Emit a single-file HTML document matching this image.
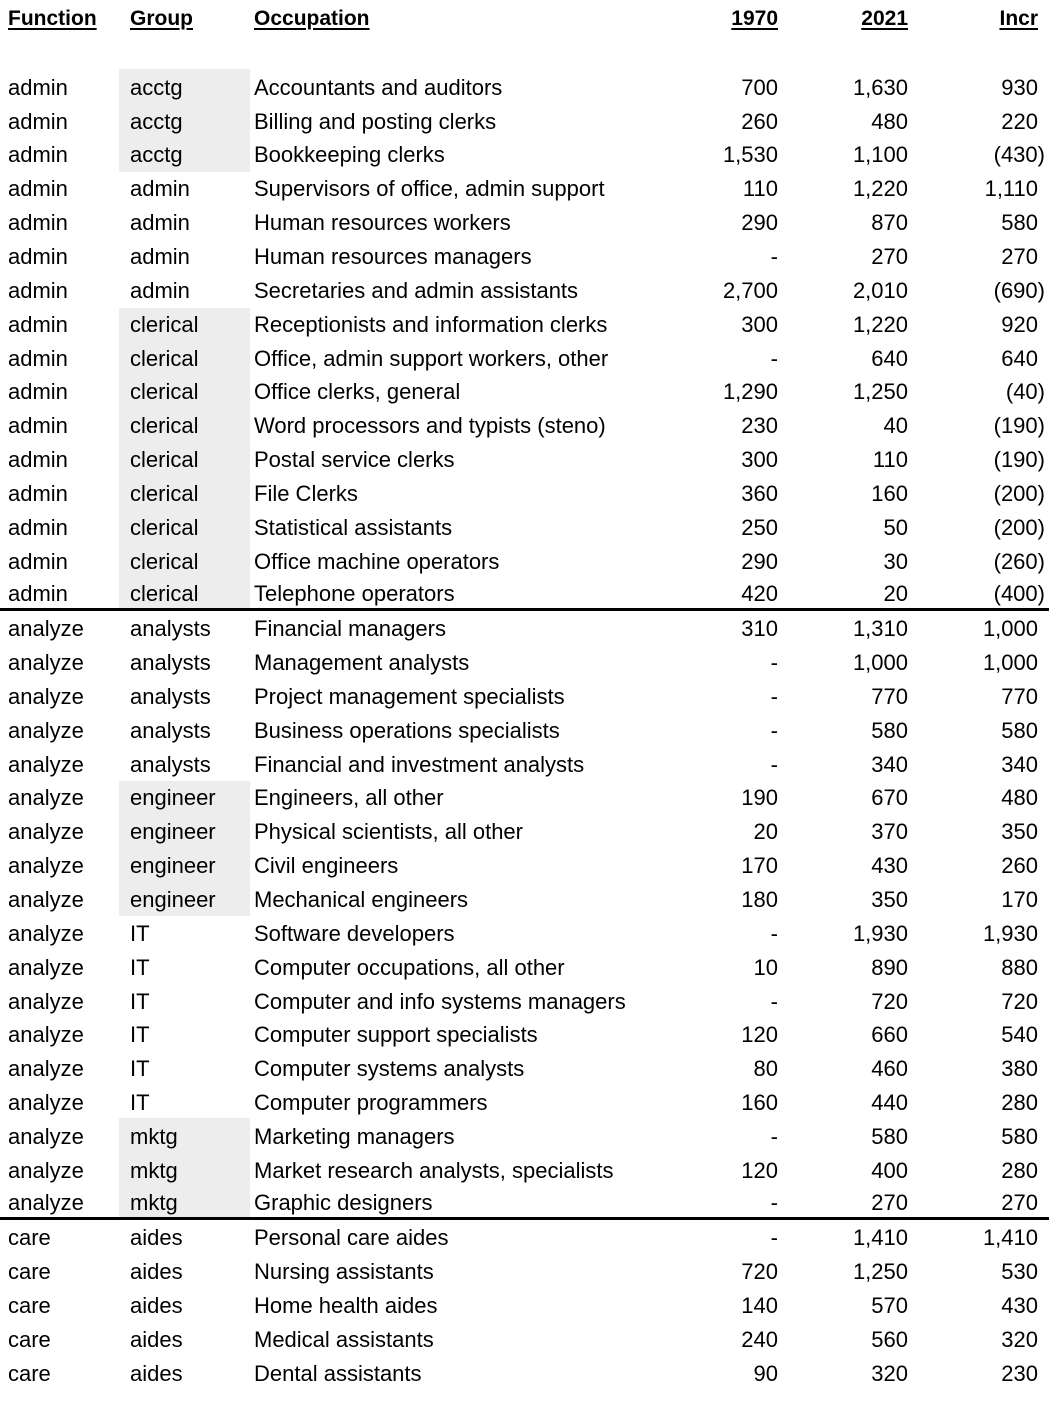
<!DOCTYPE html>
<html><head><meta charset="utf-8"><style>
body{margin:0;width:1061px;height:1404px;background:#fff;position:relative;overflow:hidden;font-family:"Liberation Sans",sans-serif;font-size:22px;color:#000}
.r{position:absolute;left:0;width:1061px;height:34px;line-height:34px}
.r span{position:absolute;white-space:nowrap}
.f{left:8px}.g{left:130px}.o{left:254px}
.a{right:283px;text-align:right}.b{right:153px;text-align:right}.c{right:23px;text-align:right}
.n i{font-style:normal;margin-right:-7px}
.gray{position:absolute;left:119px;width:131px;background:#ededed}
.line{position:absolute;left:0;width:1049px;height:3px;background:#000}
.h span{font-weight:bold;text-decoration:underline;font-size:21px;text-decoration-thickness:2px;text-underline-offset:3px}
</style></head><body>
<div class="gray" style="top:69px;height:103px"></div>
<div class="gray" style="top:308px;height:301px"></div>
<div class="gray" style="top:781px;height:135px"></div>
<div class="gray" style="top:1118px;height:100px"></div>
<div class="line" style="top:608px"></div>
<div class="line" style="top:1217px"></div>
<div class="r h" style="top:2px"><span class="f">Function</span><span class="g">Group</span><span class="o">Occupation</span><span class="a">1970</span><span class="b">2021</span><span class="c" style="right:23px">Incr</span></div>

<div class="r" style="top:71px"><span class="f">admin</span><span class="g">acctg</span><span class="o">Accountants and auditors</span><span class="a">700</span><span class="b">1,630</span><span class="c">930</span></div>
<div class="r" style="top:105px"><span class="f">admin</span><span class="g">acctg</span><span class="o">Billing and posting clerks</span><span class="a">260</span><span class="b">480</span><span class="c">220</span></div>
<div class="r" style="top:138px"><span class="f">admin</span><span class="g">acctg</span><span class="o">Bookkeeping clerks</span><span class="a">1,530</span><span class="b">1,100</span><span class="c n">(430<i>)</i></span></div>
<div class="r" style="top:172px"><span class="f">admin</span><span class="g">admin</span><span class="o">Supervisors of office, admin support</span><span class="a">110</span><span class="b">1,220</span><span class="c">1,110</span></div>
<div class="r" style="top:206px"><span class="f">admin</span><span class="g">admin</span><span class="o">Human resources workers</span><span class="a">290</span><span class="b">870</span><span class="c">580</span></div>
<div class="r" style="top:240px"><span class="f">admin</span><span class="g">admin</span><span class="o">Human resources managers</span><span class="a">-</span><span class="b">270</span><span class="c">270</span></div>
<div class="r" style="top:274px"><span class="f">admin</span><span class="g">admin</span><span class="o">Secretaries and admin assistants</span><span class="a">2,700</span><span class="b">2,010</span><span class="c n">(690<i>)</i></span></div>
<div class="r" style="top:308px"><span class="f">admin</span><span class="g">clerical</span><span class="o">Receptionists and information clerks</span><span class="a">300</span><span class="b">1,220</span><span class="c">920</span></div>
<div class="r" style="top:342px"><span class="f">admin</span><span class="g">clerical</span><span class="o">Office, admin support workers, other</span><span class="a">-</span><span class="b">640</span><span class="c">640</span></div>
<div class="r" style="top:375px"><span class="f">admin</span><span class="g">clerical</span><span class="o">Office clerks, general</span><span class="a">1,290</span><span class="b">1,250</span><span class="c n">(40<i>)</i></span></div>
<div class="r" style="top:409px"><span class="f">admin</span><span class="g">clerical</span><span class="o">Word processors and typists (steno)</span><span class="a">230</span><span class="b">40</span><span class="c n">(190<i>)</i></span></div>
<div class="r" style="top:443px"><span class="f">admin</span><span class="g">clerical</span><span class="o">Postal service clerks</span><span class="a">300</span><span class="b">110</span><span class="c n">(190<i>)</i></span></div>
<div class="r" style="top:477px"><span class="f">admin</span><span class="g">clerical</span><span class="o">File Clerks</span><span class="a">360</span><span class="b">160</span><span class="c n">(200<i>)</i></span></div>
<div class="r" style="top:511px"><span class="f">admin</span><span class="g">clerical</span><span class="o">Statistical assistants</span><span class="a">250</span><span class="b">50</span><span class="c n">(200<i>)</i></span></div>
<div class="r" style="top:545px"><span class="f">admin</span><span class="g">clerical</span><span class="o">Office machine operators</span><span class="a">290</span><span class="b">30</span><span class="c n">(260<i>)</i></span></div>
<div class="r" style="top:577px"><span class="f">admin</span><span class="g">clerical</span><span class="o">Telephone operators</span><span class="a">420</span><span class="b">20</span><span class="c n">(400<i>)</i></span></div>

<div class="r" style="top:612px"><span class="f">analyze</span><span class="g">analysts</span><span class="o">Financial managers</span><span class="a">310</span><span class="b">1,310</span><span class="c">1,000</span></div>
<div class="r" style="top:646px"><span class="f">analyze</span><span class="g">analysts</span><span class="o">Management analysts</span><span class="a">-</span><span class="b">1,000</span><span class="c">1,000</span></div>
<div class="r" style="top:680px"><span class="f">analyze</span><span class="g">analysts</span><span class="o">Project management specialists</span><span class="a">-</span><span class="b">770</span><span class="c">770</span></div>
<div class="r" style="top:714px"><span class="f">analyze</span><span class="g">analysts</span><span class="o">Business operations specialists</span><span class="a">-</span><span class="b">580</span><span class="c">580</span></div>
<div class="r" style="top:748px"><span class="f">analyze</span><span class="g">analysts</span><span class="o">Financial and investment analysts</span><span class="a">-</span><span class="b">340</span><span class="c">340</span></div>
<div class="r" style="top:781px"><span class="f">analyze</span><span class="g">engineer</span><span class="o">Engineers, all other</span><span class="a">190</span><span class="b">670</span><span class="c">480</span></div>
<div class="r" style="top:815px"><span class="f">analyze</span><span class="g">engineer</span><span class="o">Physical scientists, all other</span><span class="a">20</span><span class="b">370</span><span class="c">350</span></div>
<div class="r" style="top:849px"><span class="f">analyze</span><span class="g">engineer</span><span class="o">Civil engineers</span><span class="a">170</span><span class="b">430</span><span class="c">260</span></div>
<div class="r" style="top:883px"><span class="f">analyze</span><span class="g">engineer</span><span class="o">Mechanical engineers</span><span class="a">180</span><span class="b">350</span><span class="c">170</span></div>
<div class="r" style="top:917px"><span class="f">analyze</span><span class="g">IT</span><span class="o">Software developers</span><span class="a">-</span><span class="b">1,930</span><span class="c">1,930</span></div>
<div class="r" style="top:951px"><span class="f">analyze</span><span class="g">IT</span><span class="o">Computer occupations, all other</span><span class="a">10</span><span class="b">890</span><span class="c">880</span></div>
<div class="r" style="top:985px"><span class="f">analyze</span><span class="g">IT</span><span class="o">Computer and info systems managers</span><span class="a">-</span><span class="b">720</span><span class="c">720</span></div>
<div class="r" style="top:1018px"><span class="f">analyze</span><span class="g">IT</span><span class="o">Computer support specialists</span><span class="a">120</span><span class="b">660</span><span class="c">540</span></div>
<div class="r" style="top:1052px"><span class="f">analyze</span><span class="g">IT</span><span class="o">Computer systems analysts</span><span class="a">80</span><span class="b">460</span><span class="c">380</span></div>
<div class="r" style="top:1086px"><span class="f">analyze</span><span class="g">IT</span><span class="o">Computer programmers</span><span class="a">160</span><span class="b">440</span><span class="c">280</span></div>
<div class="r" style="top:1120px"><span class="f">analyze</span><span class="g">mktg</span><span class="o">Marketing managers</span><span class="a">-</span><span class="b">580</span><span class="c">580</span></div>
<div class="r" style="top:1154px"><span class="f">analyze</span><span class="g">mktg</span><span class="o">Market research analysts, specialists</span><span class="a">120</span><span class="b">400</span><span class="c">280</span></div>
<div class="r" style="top:1186px"><span class="f">analyze</span><span class="g">mktg</span><span class="o">Graphic designers</span><span class="a">-</span><span class="b">270</span><span class="c">270</span></div>

<div class="r" style="top:1221px"><span class="f">care</span><span class="g">aides</span><span class="o">Personal care aides</span><span class="a">-</span><span class="b">1,410</span><span class="c">1,410</span></div>
<div class="r" style="top:1255px"><span class="f">care</span><span class="g">aides</span><span class="o">Nursing assistants</span><span class="a">720</span><span class="b">1,250</span><span class="c">530</span></div>
<div class="r" style="top:1289px"><span class="f">care</span><span class="g">aides</span><span class="o">Home health aides</span><span class="a">140</span><span class="b">570</span><span class="c">430</span></div>
<div class="r" style="top:1323px"><span class="f">care</span><span class="g">aides</span><span class="o">Medical assistants</span><span class="a">240</span><span class="b">560</span><span class="c">320</span></div>
<div class="r" style="top:1357px"><span class="f">care</span><span class="g">aides</span><span class="o">Dental assistants</span><span class="a">90</span><span class="b">320</span><span class="c">230</span></div>
</body></html>
